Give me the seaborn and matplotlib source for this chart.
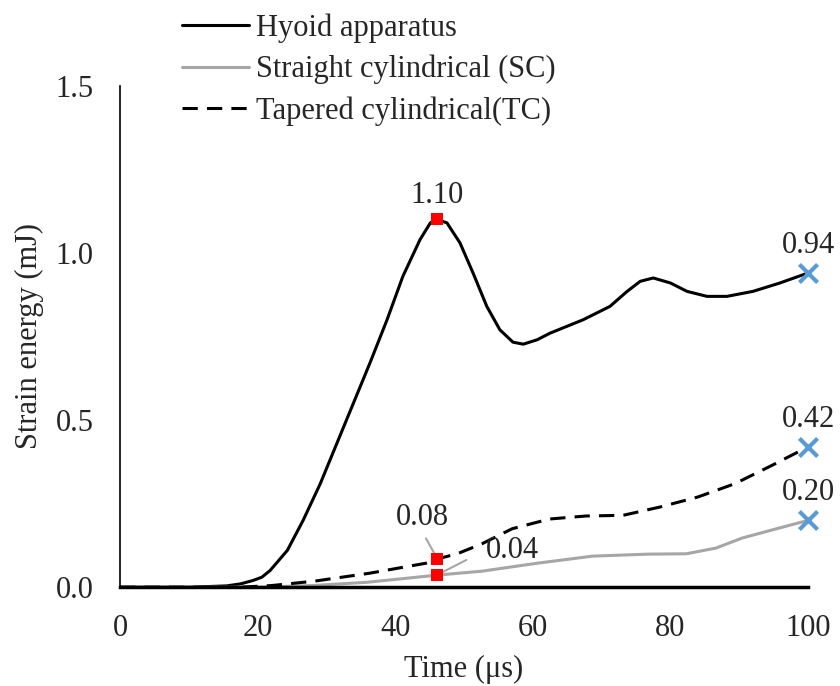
import pandas as pd
import numpy as np
import matplotlib.pyplot as plt
import seaborn as sns

sns.set_style("white")
plt.rcParams["font.family"] = ["Liberation Serif", "DejaVu Serif"]

# time (us) and strain energy (mJ)
hyoid_t = [0, 10, 15.5, 17.5, 19.3, 20.6, 21.8, 24.3, 26.6, 29.1, 31.5, 33.9, 36.3, 38.8,
           41.1, 43.6, 45.1, 46, 47.5, 49.4, 51.3, 53.3, 55.2, 57.1, 58.6, 60.6, 62.5,
           67.3, 71.2, 73.7, 75.6, 77.5, 80, 82.4, 85.3, 88.2, 92, 95.9, 100]
hyoid_e = [0, 0, 0.004, 0.01, 0.02, 0.03, 0.05, 0.11, 0.20, 0.31, 0.43, 0.55, 0.67, 0.80,
           0.93, 1.04, 1.09, 1.10, 1.09, 1.03, 0.94, 0.84, 0.77, 0.733, 0.727, 0.74, 0.76,
           0.80, 0.84, 0.885, 0.915, 0.925, 0.91, 0.885, 0.87, 0.87, 0.885, 0.91, 0.94]

sc_t = [0, 20, 28, 36, 46, 52.6, 60.7, 68.7, 76.9, 82.3, 86.6, 90.4, 95.8, 100]
sc_e = [0, 0, 0.005, 0.015, 0.036, 0.048, 0.072, 0.093, 0.099, 0.10, 0.117, 0.147, 0.177,
        0.20]

tc_t = [0, 17.4, 22, 28.2, 36.3, 44.5, 46, 49, 52.6, 57, 62.4, 67.7, 73.1, 78.5, 84, 89.4,
        94.8, 100]
tc_e = [0, 0, 0.005, 0.018, 0.042, 0.072, 0.084, 0.10, 0.13, 0.175, 0.204, 0.213, 0.215,
        0.24, 0.27, 0.31, 0.365, 0.42]

peak_t = 46
peak_vals = [1.10, 0.084, 0.036]
peak_labels = ["1.10", "0.08", "0.04"]
end_vals = [0.94, 0.42, 0.20]
end_labels = ["0.94", "0.42", "0.20"]

fig = plt.figure(figsize=(8.4, 6.86), dpi=100)
ax = fig.add_axes([0.143, 0.144, 0.819, 0.731])

sns.lineplot(x=hyoid_t, y=hyoid_e, ax=ax, color="black", lw=2.2, label="Hyoid apparatus")
sns.lineplot(x=sc_t, y=sc_e, ax=ax, color="#a6a6a6", lw=2.2, label="Straight cylindrical (SC)")
sns.lineplot(x=tc_t, y=tc_e, ax=ax, color="black", lw=2.2, label="Tapered cylindrical(TC)")
ax.lines[2].set_dashes([5, 3])

ax.scatter([peak_t] * 3, peak_vals, marker="s", color="#ff0000", s=80, zorder=5,
           linewidths=0)
ax.scatter([100] * 3, end_vals, marker="x", color="#5b9bd5", s=170, linewidths=3,
           zorder=5, clip_on=False)

fs = 22
leader = dict(arrowstyle="-", color="#a6a6a6", lw=1.5, shrinkB=0)
ax.annotate(peak_labels[0], xy=(peak_t, peak_vals[0]), xytext=(0, 17),
            textcoords="offset points", ha="center", va="center", fontsize=fs)
ax.annotate(peak_labels[1], xy=(peak_t, peak_vals[1] + 0.005), xytext=(43.9, 0.21),
            fontsize=fs, ha="center", va="center",
            arrowprops=dict(leader, shrinkA=3, relpos=(0.5, 0)))
ax.annotate(peak_labels[2], xy=(peak_t, peak_vals[2]), xytext=(57, 0.111),
            fontsize=fs, ha="center", va="center",
            arrowprops=dict(leader, shrinkA=13, relpos=(0, 0.5)))
for v, lab in zip(end_vals, end_labels):
    ax.annotate(lab, xy=(100, v), xytext=(0, 20), textcoords="offset points",
                ha="center", va="center", fontsize=fs)

ax.set_xlim(0, 100)
ax.set_ylim(0, 1.5)
ax.set_xticks(range(0, 101, 20))
ax.set_yticks([0, 0.5, 1.0, 1.5])
ax.set_yticklabels(["0.0", "0.5", "1.0", "1.5"])
ax.tick_params(labelsize=fs, length=0, pad=19)
ax.set_xlabel("Time (μs)", fontsize=fs, labelpad=9)
ax.set_ylabel("Strain energy (mJ)", fontsize=fs, labelpad=8)

for s in ["top", "right"]:
    ax.spines[s].set_visible(False)
ax.spines["left"].set_color("black")
ax.spines["left"].set_linewidth(1.2)
ax.spines["bottom"].set_color("black")
ax.spines["bottom"].set_linewidth(2.5)

ax.legend(loc="upper left", bbox_to_anchor=(0.2167, 0.981), bbox_transform=fig.transFigure,
          frameon=False, fontsize=fs, handlelength=2.2, handletextpad=0.23,
          labelspacing=0.4, borderaxespad=0, borderpad=0)

fig.savefig("out.png", dpi=100)
